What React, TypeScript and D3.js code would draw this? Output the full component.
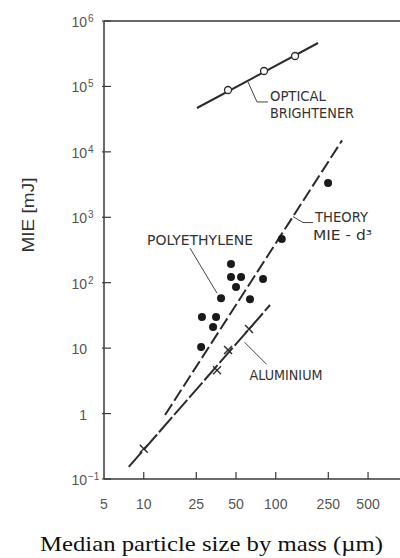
import React from "react";
import * as d3 from "d3";

// values (d in µm, MIE in mJ)
const polyethylene: [number, number][] = [
  [249, 3340], [111, 466], [45.8, 193], [45.8, 122], [54.6, 122], [50, 86],
  [80.1, 114], [38.5, 58], [63.8, 56], [27.6, 30], [35.3, 30], [33.5, 21], [27.2, 10.4],
];
const opticalLine: [number, number][] = [[25.3, 46800], [209, 461000]];
const opticalPoints: [number, number][] = [[43.5, 88200], [81.5, 172000], [140, 292000]];
const theoryLine: [number, number][] = [[14.5, 0.95], [318, 15000]];
const aluminiumLine: [number, number][] = [[7.7, 0.153], [90.5, 45.6]];
const aluminiumPoints: [number, number][] = [[10, 0.29], [35.9, 4.6], [43.5, 9.4], [62.7, 19.6]];

const xTicks = [5, 10, 25, 50, 100, 250, 500];
const yTicks = [1e6, 1e5, 1e4, 1e3, 100, 10, 1, 0.1];
const yTickLabels = [["10", "6"], ["10", "5"], ["10", "4"], ["10", "3"], ["10", "2"], ["10", ""], ["1", ""], ["10", "\u22121"]];

const W = 400;
const H = 558;
const ink = "#2b2b2b";
const labelFont = "'DejaVu Sans Condensed', 'Liberation Sans Narrow', 'DejaVu Sans', sans-serif";

const App = () => {
  const x = d3.scaleLog().domain([5, 873]).range([104, 400]);
  const y = d3.scaleLog().domain([0.1, 1e6]).range([479, 21]);
  const line = d3.line<[number, number]>().x((d) => x(d[0])).y((d) => y(d[1]));

  // annotation anchors (data units)
  const opt = [61.6, 117000];
  const polyDot = polyethylene[7];
  const thX = 135;
  const thY = Math.pow(10, Math.log10(theoryLine[0][1]) + (Math.log10(thX) - Math.log10(theoryLine[0][0])) *
    (Math.log10(theoryLine[1][1]) - Math.log10(theoryLine[0][1])) / (Math.log10(theoryLine[1][0]) - Math.log10(theoryLine[0][0])));
  const alX = 58;
  const alY = Math.pow(10, Math.log10(aluminiumLine[0][1]) + (Math.log10(alX) - Math.log10(aluminiumLine[0][0])) *
    (Math.log10(aluminiumLine[1][1]) - Math.log10(aluminiumLine[0][1])) / (Math.log10(aluminiumLine[1][0]) - Math.log10(aluminiumLine[0][0])));

  const ox = x(opt[0]), oy = y(opt[1]);
  const px = x(polyDot[0]), py = y(polyDot[1]);
  const tx = x(thX), ty = y(thY);
  const ax = x(alX), ay = y(alY);

  return (
    <svg width={W} height={H} style={{ position: "absolute", left: 0, top: 0, background: "#fff" }}>
      {/* frame */}
      <g stroke="#3a3a3a" strokeWidth={1.5} fill="none">
        <line x1={x(5)} x2={x(5)} y1={y(1e6)} y2={y(0.1)} />
        <line x1={x(5)} x2={W} y1={y(1e6)} y2={y(1e6)} />
        <line x1={x(5)} x2={W} y1={y(0.1)} y2={y(0.1)} />
      </g>
      {yTicks.map((t) => (
        <line key={"yt" + t} x1={x(5) - 2} x2={x(5) + 7} y1={y(t)} y2={y(t)} stroke="#3a3a3a" strokeWidth={1.2} />
      ))}
      {xTicks.slice(1).map((t) => (
        <line key={"xt" + t} x1={x(t)} x2={x(t)} y1={y(0.1)} y2={y(0.1) - 7} stroke="#3a3a3a" strokeWidth={1.2} />
      ))}
      {/* tick labels */}
      {yTicks.map((t, i) => (
        <g key={"yl" + t} fill="#555" fontFamily="'Liberation Sans', Arial, sans-serif">
          <text x={87} y={y(t) + 6} fontSize={14} textAnchor="end">{yTickLabels[i][0]}</text>
          {yTickLabels[i][1] && (
            <text x={88} y={y(t) + 1} fontSize={10}>{yTickLabels[i][1]}</text>
          )}
        </g>
      ))}
      {xTicks.map((t) => (
        <text key={"xl" + t} x={x(t)} y={509} fontSize={14} textAnchor="middle" fill="#555"
          fontFamily="'Liberation Sans', Arial, sans-serif">{t}</text>
      ))}

      {/* optical brightener */}
      <path d={line(opticalLine) || ""} stroke={ink} strokeWidth={2} fill="none" />
      {opticalPoints.map((d, i) => (
        <circle key={"o" + i} cx={x(d[0])} cy={y(d[1])} r={3.5} fill="#fff" stroke={ink} strokeWidth={1.3} />
      ))}

      {/* theory */}
      <path d={line(theoryLine) || ""} stroke={ink} strokeWidth={2} fill="none" strokeDasharray="13,4" />

      {/* aluminium */}
      <path d={line(aluminiumLine) || ""} stroke={ink} strokeWidth={2} fill="none" strokeDasharray="20,3" />
      {aluminiumPoints.map((d, i) => {
        const cx = x(d[0]), cy = y(d[1]);
        return (
          <g key={"a" + i} stroke={ink} strokeWidth={1.4}>
            <line x1={cx - 4} x2={cx + 4} y1={cy - 4} y2={cy + 4} />
            <line x1={cx - 4} x2={cx + 4} y1={cy + 4} y2={cy - 4} />
          </g>
        );
      })}

      {/* polyethylene */}
      {polyethylene.map((d, i) => (
        <circle key={"p" + i} cx={x(d[0])} cy={y(d[1])} r={4} fill="#1a1a1a" />
      ))}

      {/* annotations */}
      <g stroke="#444" strokeWidth={1} fill="none">
        <polyline points={`${ox},${oy} ${ox + 9},${oy + 20} ${ox + 20},${oy + 20}`} />
        <line x1={px - 4} y1={py - 5} x2={px - 31} y2={py - 50} />
        <polyline points={`${tx},${ty} ${tx + 10},${ty + 6} ${tx + 20},${ty + 6}`} />
        <line x1={ax} y1={ay + 8} x2={ax + 22} y2={ay + 30} />
      </g>
      <g fill="#333" fontFamily={labelFont} fontSize={14}>
        <text x={ox + 22} y={oy + 19} textLength={56} lengthAdjust="spacingAndGlyphs">OPTICAL</text>
        <text x={ox + 22} y={oy + 36} textLength={84} lengthAdjust="spacingAndGlyphs">BRIGHTENER</text>
        <text x={px - 74} y={py - 53} textLength={106} lengthAdjust="spacingAndGlyphs">POLYETHYLENE</text>
        <text x={tx + 22} y={ty + 5} textLength={53} lengthAdjust="spacingAndGlyphs">THEORY</text>
        <text x={tx + 20} y={ty + 23} textLength={59} lengthAdjust="spacingAndGlyphs">MIE - d³</text>
        <text x={ax + 5} y={ay + 46} textLength={73} lengthAdjust="spacingAndGlyphs">ALUMINIUM</text>
      </g>

      {/* axis titles */}
      <text transform="translate(34,215) rotate(-90)" textAnchor="middle" fontSize={16} fill="#333"
        fontFamily="'Liberation Sans', Arial, sans-serif" textLength={75} lengthAdjust="spacingAndGlyphs">MIE [mJ]</text>
      <text x={40} y={551} fontSize={21} fill="#111" fontFamily="'Liberation Serif', 'Times New Roman', serif"
        textLength={343} lengthAdjust="spacingAndGlyphs">Median particle size by mass (µm)</text>
    </svg>
  );
};

export default App;
